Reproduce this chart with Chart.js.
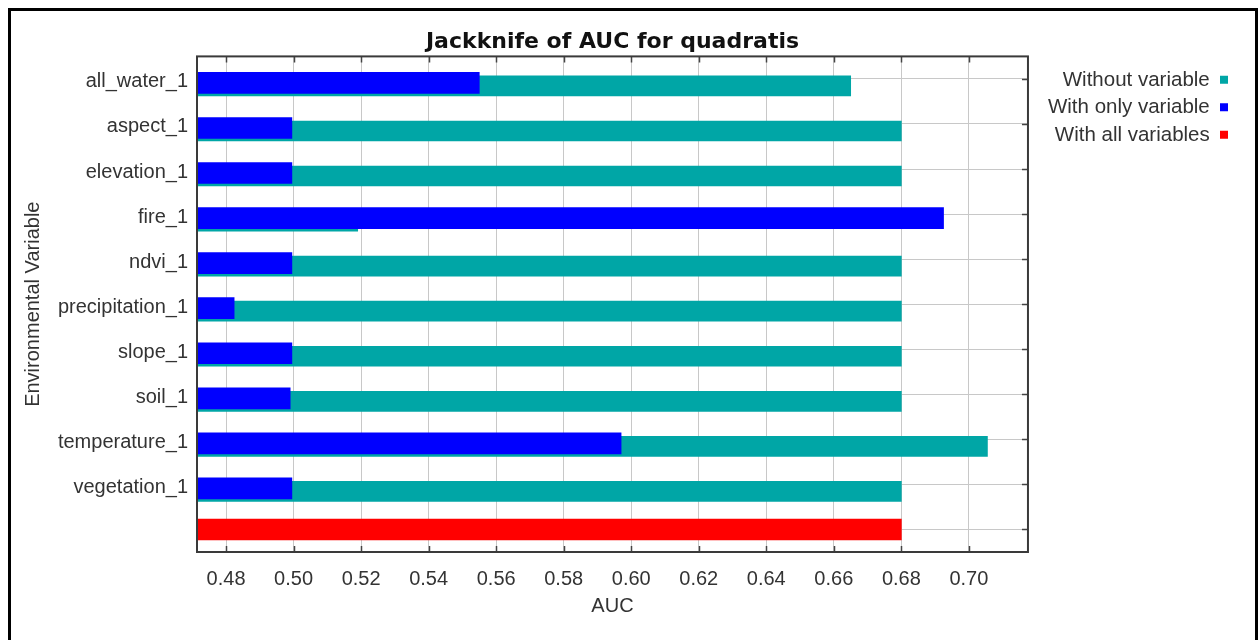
<!DOCTYPE html>
<html>
<head>
<meta charset="utf-8">
<script src="https://cdn.jsdelivr.net/npm/chart.js@4.4.1/dist/chart.umd.min.js"></script>
<style>
  html, body { margin: 0; padding: 0; background: #fff; }
  #frame { position: absolute; left: 8px; top: 8px; width: 1244px; height: 700px; border: 3px solid #000; }
  #wrap { position: absolute; left: 0; top: 0; width: 1259px; height: 640px; }
</style>
</head>
<body>
<div id="frame"></div>
<div id="wrap"><canvas id="myChart"></canvas></div>
<script>
const variables = ["all_water_1", "aspect_1", "elevation_1", "fire_1", "ndvi_1",
  "precipitation_1", "slope_1", "soil_1", "temperature_1", "vegetation_1", ""];
const withoutVariable = [0.665, 0.680, 0.680, 0.519, 0.680, 0.680, 0.680, 0.680, 0.7055, 0.680, null];
const withOnlyVariable = [0.555, 0.4995, 0.4995, 0.6925, 0.4995, 0.4824, 0.4995, 0.499, 0.597, 0.4995, null];
const withAllVariables = [null, null, null, null, null, null, null, null, null, null, 0.680];
const aucTicks = [0.48, 0.50, 0.52, 0.54, 0.56, 0.58, 0.60, 0.62, 0.64, 0.66, 0.68, 0.70];

const textFont = { family: "'Liberation Sans', Arial, sans-serif", size: 20 };

// frame around plot, inside tick marks, small vertical shift of the bars
const framePlugin = {
  id: "framePlugin",
  beforeDatasetDraw(chart, args) {
    const ds = chart.data.datasets[args.index];
    chart.ctx.save();
    chart.ctx.translate(0, ds.shiftY || 0);
  },
  afterDatasetDraw(chart) {
    chart.ctx.restore();
  },
  afterDraw(chart) {
    const { ctx, chartArea: a, scales } = chart;
    ctx.save();
    ctx.strokeStyle = "#444";
    ctx.lineWidth = 1.5;
    ctx.beginPath();
    aucTicks.forEach(v => {
      const px = Math.round(scales.x.getPixelForValue(v)) + 0.5;
      ctx.moveTo(px, a.bottom); ctx.lineTo(px, a.bottom - 6);
      ctx.moveTo(px, a.top); ctx.lineTo(px, a.top + 6);
    });
    variables.forEach((v, i) => {
      const py = Math.round(scales.y.getPixelForValue(i)) + 0.5;
      ctx.moveTo(a.right, py); ctx.lineTo(a.right - 6, py);
    });
    ctx.stroke();
    ctx.lineWidth = 2;
    ctx.strokeStyle = "#3a3a3a";
    ctx.strokeRect(a.left, a.top, a.right - a.left, a.bottom - a.top);
    ctx.restore();
  }
};

new Chart("myChart", {
  type: "bar",
  data: {
    labels: variables,
    datasets: [{
      label: "Without variable",
      data: withoutVariable,
      backgroundColor: "rgb(0, 166, 166)",
      barThickness: 20,
      order: 2,
      shiftY: 7
    }, {
      label: "With only variable",
      data: withOnlyVariable,
      backgroundColor: "rgb(0, 0, 255)",
      barThickness: 21,
      order: 1,
      shiftY: 4
    }, {
      label: "With all variables",
      data: withAllVariables,
      backgroundColor: "rgb(255, 0, 0)",
      barThickness: 21,
      order: 3,
      shiftY: 0
    }]
  },
  options: {
    indexAxis: "y",
    responsive: true,
    maintainAspectRatio: false,
    animation: false,
    grouped: false,
    layout: { padding: { left: 0, right: 24, top: 0, bottom: 8 } },
    scales: {
      x: {
        type: "linear",
        min: 0.4714,
        max: 0.7175,
        afterBuildTicks: (scale) => { scale.ticks = aucTicks.map(v => ({ value: v })); },
        afterFit: (scale) => { scale.height = 80; },
        border: { display: false },
        grid: { color: "#c8c8c8", drawTicks: false },
        ticks: {
          color: "#333",
          font: textFont,
          padding: 15,
          autoSkip: false,
          maxRotation: 0,
          callback: (v) => Number(v).toFixed(2)
        },
        title: {
          display: true,
          text: "AUC",
          color: "#333",
          font: textFont,
          padding: { top: 0, bottom: 14 }
        }
      },
      y: {
        afterFit: (scale) => { scale.width = 197; },
        border: { display: false },
        grid: { color: "#c8c8c8", drawTicks: false, offset: false },
        ticks: { color: "#333", font: textFont, padding: 9, labelOffset: 3, autoSkip: false },
        title: {
          display: true,
          text: "Environmental Variable",
          color: "#333",
          font: textFont,
          padding: { top: 21, bottom: 0 }
        }
      },
      // empty strip between plot and legend
      gap: {
        type: "linear",
        axis: "y",
        position: "right",
        afterFit: (scale) => { scale.width = 10; },
        border: { display: false },
        grid: { display: false },
        ticks: { display: false }
      }
    },
    plugins: {
      tooltip: { enabled: false },
      title: {
        display: true,
        text: "Jackknife of AUC for quadratis",
        color: "#111",
        fullSize: false,
        font: { family: "'DejaVu Sans', sans-serif", size: 22, weight: "bold" },
        padding: { top: 29, bottom: 1 }
      },
      legend: {
        position: "right",
        align: "start",
        fullSize: false,
        rtl: true,
        title: { display: true, text: "", font: { size: 1 }, padding: { top: 5, bottom: 0 } },
        labels: {
          color: "#333",
          font: { family: textFont.family, size: 20.5 },
          boxWidth: 8,
          boxHeight: 8,
          padding: 7,
          sort: (a, b) => a.datasetIndex - b.datasetIndex
        }
      }
    }
  },
  plugins: [framePlugin]
});
</script>
</body>
</html>
